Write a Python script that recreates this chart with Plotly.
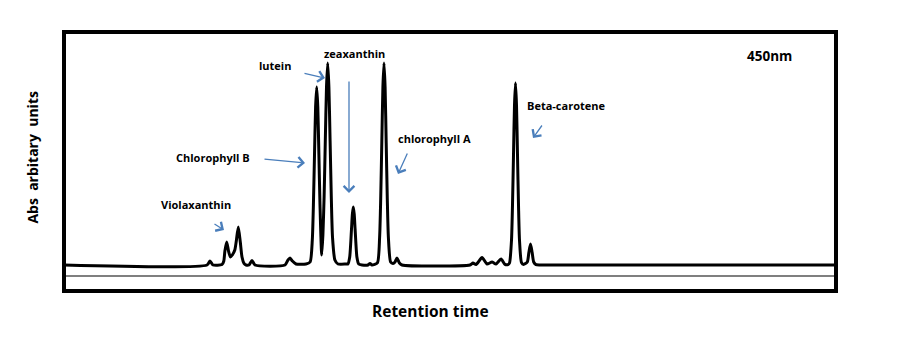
import plotly.graph_objects as go

# Chromatogram trace (retention time in min, absorbance in arbitrary units)
retention_time = [
    0.0, 7.15, 7.3, 7.45,
    7.9, 7.99, 8.045, 8.135, 8.225, 8.32, 8.415, 8.54, 8.615, 8.715, 8.815, 8.9, 9.0, 9.1,
    9.25, 9.4, 9.55,
    11.05, 11.2, 11.3, 11.42, 11.6, 12.1,
    12.305, 12.415, 12.47, 12.525, 12.58, 12.635, 12.69, 12.745, 12.8, 12.885,
    12.945, 13.005, 13.065, 13.125, 13.185, 13.245, 13.305, 13.365, 13.425, 13.545, 13.7, 14.1,
    14.195, 14.285, 14.375, 14.42, 14.465, 14.51, 14.555, 14.645, 14.735, 14.9,
    15.2, 15.3, 15.4,
    15.67, 15.78, 15.835, 15.89, 15.945, 16.0, 16.055, 16.11, 16.165, 16.22, 16.33, 16.45,
    16.55, 16.65, 16.77, 16.9,
    20.3, 20.45, 20.6, 20.9, 21.15, 21.4, 21.6, 21.85, 22.05, 22.2,
    22.275, 22.375, 22.425, 22.475, 22.525, 22.575, 22.625, 22.675, 22.725, 22.775, 22.875, 22.98,
    23.165, 23.245, 23.325, 23.405, 23.485, 23.6, 23.8, 38.6]
absorbance = [
    0.0, 0.0, 0.02, 0.0,
    0.002, 0.02, 0.07, 0.115, 0.07, 0.04, 0.05, 0.075, 0.12, 0.19, 0.115, 0.04, 0.008, 0.0,
    0.0, 0.022, 0.0,
    0.0, 0.025, 0.035, 0.02, 0.005, 0.005,
    0.015, 0.125, 0.3, 0.55, 0.79, 0.89, 0.79, 0.55, 0.3, 0.05,
    0.15, 0.34, 0.62, 0.89, 1.01, 0.89, 0.62, 0.34, 0.14, 0.025, 0.005, 0.005,
    0.005, 0.04, 0.18, 0.255, 0.29, 0.255, 0.18, 0.04, 0.005, 0.0,
    0.0, 0.008, 0.0,
    0.011, 0.137, 0.33, 0.61, 0.89, 1.01, 0.89, 0.61, 0.33, 0.137, 0.015, 0.008,
    0.015, 0.035, 0.01, 0.0,
    0.0, 0.01, 0.002, 0.037, 0.005, 0.015, 0.005, 0.03, 0.003, 0.002,
    0.01, 0.124, 0.3, 0.55, 0.8, 0.91, 0.8, 0.55, 0.3, 0.124, 0.012, 0.003,
    0.015, 0.064, 0.105, 0.064, 0.015, 0.002, 0.0, 0.0]

reference_level = -0.055
x_range = [0, 38.6]
y_range = [-0.13, 1.165]

# Peak labels: text, label position, arrow head position
peak_names = ["Violaxanthin", "Chlorophyll B", "lutein", "zeaxanthin", "chlorophyll A", "Beta-carotene"]
label_t = [6.6, 7.45, 10.55, 14.5, 18.5, 25.1]
label_v = [0.305, 0.54, 1.0, 1.06, 0.635, 0.8]
arrow_t = [8.0, 12.05, 13.05, 14.25, 16.7, 23.45]
arrow_v = [0.175, 0.51, 0.935, 0.36, 0.455, 0.635]
arrow_ax = [-11, -42, -22, 0, 10, 10]
arrow_ay = [-7, -4, -5, -113, -22, -14]

fig = go.Figure()
fig.add_trace(go.Scatter(x=x_range, y=[reference_level, reference_level], mode="lines",
                         line=dict(color="black", width=1.2), hoverinfo="skip"))
fig.add_trace(go.Scatter(x=retention_time, y=absorbance, mode="lines",
                         line=dict(color="black", width=3, shape="spline", smoothing=0.6),
                         hoverinfo="skip"))

font_family = "Open Sans, Noto Sans, sans-serif"
annotations = []
for name, lt, lv in zip(peak_names, label_t, label_v):
    annotations.append(dict(x=lt, y=lv, xref="x", yref="y", text="<b>" + name + "</b>",
                            showarrow=False, font=dict(family=font_family, size=11, color="black")))
for at, av, ax, ay in zip(arrow_t, arrow_v, arrow_ax, arrow_ay):
    annotations.append(dict(x=at, y=av, xref="x", yref="y", text="", showarrow=True,
                            ax=ax, ay=ay, arrowhead=4, arrowsize=1.6, arrowwidth=1.3,
                            arrowcolor="#4a7ebb", standoff=0, startstandoff=0))
annotations.append(dict(x=35.25, y=1.045, xref="x", yref="y", text="<b>450nm</b>", showarrow=False,
                        font=dict(family=font_family, size=13.5, color="black")))
annotations.append(dict(x=18.3, y=0, xref="x", yref="paper", yshift=-20, yanchor="middle",
                        text="<b>Retention time</b>", showarrow=False,
                        font=dict(family=font_family, size=15.5, color="black")))
annotations.append(dict(x=0, y=0.515, xref="paper", yref="paper", xshift=-31, xanchor="center",
                        yanchor="middle", textangle=-90,
                        text="<b>Abs\u00a0\u00a0arbitary\u00a0\u00a0units</b>",
                        showarrow=False, font=dict(family=font_family, size=14, color="black")))

fig.update_layout(
    width=900, height=359,
    margin=dict(l=64, r=64, t=32, b=68),
    plot_bgcolor="white", paper_bgcolor="white",
    showlegend=False,
    xaxis=dict(range=x_range, visible=False, fixedrange=True),
    yaxis=dict(range=y_range, visible=False, fixedrange=True),
    annotations=annotations,
    shapes=[dict(type="rect", xref="paper", yref="paper", x0=0, x1=1, y0=0, y1=1,
                 line=dict(color="black", width=4))],
)

fig.write_html("out.html", config={"displayModeBar": False},
               post_script="document.body.style.margin='0';")
